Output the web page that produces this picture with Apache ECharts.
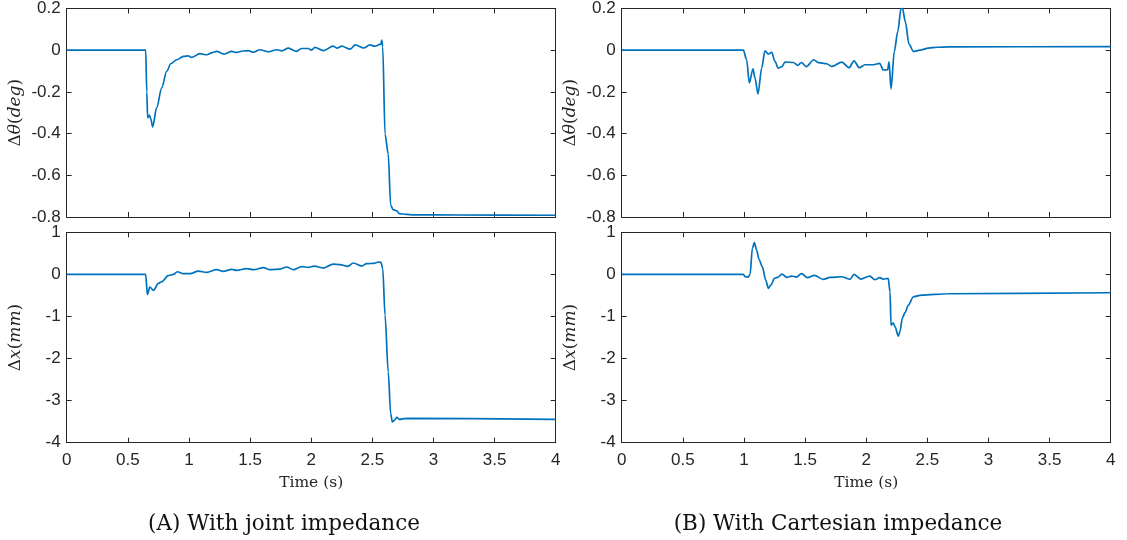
<!DOCTYPE html>
<html>
<head>
<meta charset="utf-8">
<script src="https://cdn.jsdelivr.net/npm/echarts@6/dist/echarts.min.js"></script>
<style>
html,body{margin:0;padding:0;background:#fff;}
#chart{width:1127px;height:540px;}
</style>
</head>
<body>
<div id="chart"></div>
<script>
// ---- Data ----
const xTicks = [0, 0.5, 1, 1.5, 2, 2.5, 3, 3.5, 4];
const thetaTicks = [-0.8, -0.6, -0.4, -0.2, 0, 0.2];
const posTicks = [-4, -3, -2, -1, 0, 1];

// (A) joint impedance, angle deviation (deg)
const timeThetaJoint = [0, 0.646, 0.655, 0.662, 0.676, 0.688, 0.703, 0.736, 0.777, 0.818, 0.851, 0.9, 0.954, 0.995, 1.02, 1.09, 1.145, 1.19, 1.227, 1.287, 1.35, 1.39, 1.44, 1.486, 1.527, 1.58, 1.65, 1.718, 1.76, 1.813, 1.88, 1.92, 1.977, 2.0, 2.03, 2.1, 2.18, 2.21, 2.25, 2.32, 2.36, 2.43, 2.48, 2.52, 2.57, 2.577, 2.585, 2.604, 2.63, 2.65, 2.67, 2.7, 2.72, 2.78, 2.835, 3.2, 4.0];
const thetaJoint = [0, 0, -0.2, -0.324, -0.311, -0.33, -0.368, -0.276, -0.181, -0.101, -0.065, -0.046, -0.03, -0.027, -0.035, -0.017, -0.022, -0.012, -0.006, -0.019, -0.006, -0.011, -0.004, -0.002, -0.01, 0.002, -0.008, 0.002, -0.003, 0.01, -0.006, 0.008, 0.008, 0, 0.013, -0.002, 0.019, 0.01, 0.019, 0.005, 0.025, 0.011, 0.025, 0.019, 0.029, 0.048, 0.017, -0.403, -0.498, -0.744, -0.765, -0.771, -0.784, -0.788, -0.79, -0.791, -0.792];

// (A) joint impedance, position deviation (mm)
const timePosJoint = [0, 0.646, 0.66, 0.68, 0.71, 0.75, 0.777, 0.83, 0.873, 0.905, 0.954, 1.01, 1.077, 1.145, 1.227, 1.28, 1.35, 1.39, 1.47, 1.527, 1.61, 1.663, 1.745, 1.8, 1.854, 1.92, 1.977, 2.023, 2.1, 2.18, 2.236, 2.3, 2.345, 2.413, 2.454, 2.51, 2.55, 2.57, 2.585, 2.604, 2.63, 2.65, 2.664, 2.68, 2.7, 2.72, 2.78, 4.0];
const posJoint = [0, 0, -0.476, -0.3, -0.38, -0.214, -0.175, -0.03, 0, 0.063, 0.016, 0.016, 0.079, 0.048, 0.111, 0.071, 0.119, 0.095, 0.135, 0.111, 0.159, 0.111, 0.127, 0.175, 0.111, 0.183, 0.167, 0.198, 0.151, 0.246, 0.23, 0.19, 0.27, 0.198, 0.254, 0.262, 0.294, 0.286, 0.143, -0.968, -2.317, -3.31, -3.508, -3.47, -3.397, -3.444, -3.42, -3.444];

// (B) Cartesian impedance, angle deviation (deg)
const timeThetaCart = [0, 0.995, 1.022, 1.044, 1.074, 1.09, 1.115, 1.145, 1.172, 1.2, 1.227, 1.254, 1.28, 1.31, 1.336, 1.404, 1.44, 1.47, 1.51, 1.57, 1.61, 1.677, 1.72, 1.8, 1.86, 1.9, 1.944, 1.99, 2.06, 2.11, 2.14, 2.175, 2.187, 2.203, 2.23, 2.258, 2.285, 2.296, 2.32, 2.35, 2.386, 2.44, 2.51, 2.58, 2.67, 4.0];
const thetaCart = [0, 0, -0.046, -0.157, -0.09, -0.133, -0.21, -0.086, -0.003, -0.019, -0.01, -0.054, -0.086, -0.079, -0.057, -0.059, -0.073, -0.059, -0.079, -0.046, -0.06, -0.065, -0.078, -0.057, -0.084, -0.051, -0.084, -0.07, -0.07, -0.063, -0.095, -0.094, -0.056, -0.186, -0.006, 0.089, 0.2, 0.203, 0.137, 0.029, -0.006, 0.0, 0.01, 0.014, 0.016, 0.0175];

// (B) Cartesian impedance, position deviation (mm)
const timePosCart = [0, 0.995, 1.01, 1.036, 1.05, 1.069, 1.085, 1.104, 1.123, 1.15, 1.178, 1.2, 1.22, 1.25, 1.28, 1.31, 1.35, 1.39, 1.43, 1.47, 1.52, 1.576, 1.65, 1.704, 1.8, 1.868, 1.9, 1.955, 2.03, 2.07, 2.11, 2.14, 2.18, 2.195, 2.203, 2.22, 2.236, 2.263, 2.277, 2.296, 2.318, 2.345, 2.386, 2.454, 2.67, 4.0];
const posCart = [0, 0, -0.056, -0.063, 0, 0.619, 0.754, 0.579, 0.357, 0.183, -0.135, -0.333, -0.254, -0.095, -0.063, 0.008, -0.071, -0.04, -0.063, 0.016, -0.079, -0.024, -0.119, -0.071, -0.056, -0.119, 0, -0.111, -0.04, -0.127, -0.079, -0.111, -0.095, -0.413, -1.206, -1.15, -1.246, -1.468, -1.349, -1.032, -0.905, -0.73, -0.532, -0.492, -0.46, -0.437];

const thetaName = '{u|Δ}{i|θ}{u|(}{i|deg}{u|)}';
const posName = '{u|Δ}{i|x}{u|(}{i|mm}{u|)}';
const timeName = 'Time (s)';
const captions = ['(A) With joint impedance', '(B) With Cartesian impedance'];

// ---- Chart ----
const zip = (t, v) => t.map((x, i) => [x, v[i]]);
const AX = '#262626';
const LINE = '#0072BD';
const nameRich = {
  u: {fontFamily: 'DejaVu Serif', fontSize: 17, color: AX},
  i: {fontFamily: 'DejaVu Serif', fontStyle: 'italic', fontSize: 17, color: AX}
};

const panels = [
  {left: 66.7, top: 6.5, t: timeThetaJoint, v: thetaJoint, kind: 'theta', bottom: false},
  {left: 66.7, top: 232.3, t: timePosJoint, v: posJoint, kind: 'pos', bottom: true},
  {left: 621.7, top: 6.5, t: timeThetaCart, v: thetaCart, kind: 'theta', bottom: false},
  {left: 621.7, top: 232.3, t: timePosCart, v: posCart, kind: 'pos', bottom: true}
];
const W = 489, H = 210.4;

const grid = [], xAxis = [], yAxis = [], series = [];
const fmt = v => String(Math.round(v * 10) / 10);
panels.forEach((p, i) => {
  grid.push({left: p.left, top: p.top, width: W, height: H, containLabel: false});
  const common = {
    type: 'value', gridIndex: i, min: 0, max: 4, interval: 0.5,
    axisLine: {show: true, onZero: false, lineStyle: {color: AX, width: 1}},
    axisTick: {show: true, inside: true, length: 5, lineStyle: {color: AX}},
    splitLine: {show: false}
  };
  xAxis.push(Object.assign({}, common, {
    position: 'bottom',
    axisLabel: {show: p.bottom, color: AX, fontFamily: 'Liberation Sans', fontSize: 17, margin: 9, formatter: fmt},
    name: p.bottom ? timeName : '',
    nameLocation: 'middle', nameGap: 32,
    nameTextStyle: {fontFamily: 'DejaVu Serif', fontSize: 15.5, color: AX}
  }));
  xAxis.push(Object.assign({}, common, {position: 'top', axisLabel: {show: false}}));
  const isT = p.kind === 'theta';
  const ycommon = {
    type: 'value', gridIndex: i,
    min: isT ? -0.8 : -4, max: isT ? 0.2 : 1, interval: isT ? 0.2 : 1,
    axisLine: {show: true, onZero: false, lineStyle: {color: AX, width: 1}},
    axisTick: {show: true, inside: true, length: 5, lineStyle: {color: AX}},
    splitLine: {show: false}
  };
  yAxis.push(Object.assign({}, ycommon, {
    position: 'left',
    axisLabel: {color: AX, fontFamily: 'Liberation Sans', fontSize: 17, margin: 6, formatter: fmt, showMinLabel: true, showMaxLabel: true},
    name: isT ? thetaName : posName,
    nameLocation: 'middle', nameRotate: 90, nameGap: 43,
    nameTextStyle: {rich: nameRich}
  }));
  yAxis.push(Object.assign({}, ycommon, {position: 'right', axisLabel: {show: false}}));
  series.push({
    type: 'line', xAxisIndex: 2 * i, yAxisIndex: 2 * i,
    data: zip(p.t, p.v), showSymbol: false, symbol: 'none',
    smooth: 0.3, smoothMonotone: 'x',
    lineStyle: {color: LINE, width: 1.7}, clip: true, animation: false
  });
});

const chart = echarts.init(document.getElementById('chart'), null, {renderer: 'canvas'});
chart.setOption({
  animation: false,
  backgroundColor: '#fff',
  grid, xAxis, yAxis, series,
  graphic: [
    {type: 'text', x: 284, y: 524, style: {text: captions[0], textAlign: 'center', textVerticalAlign: 'middle', fontFamily: 'DejaVu Serif', fontSize: 21.5, fill: '#111'}},
    {type: 'text', x: 838, y: 524, style: {text: captions[1], textAlign: 'center', textVerticalAlign: 'middle', fontFamily: 'DejaVu Serif', fontSize: 21.5, fill: '#111'}}
  ]
});
</script>
</body>
</html>
